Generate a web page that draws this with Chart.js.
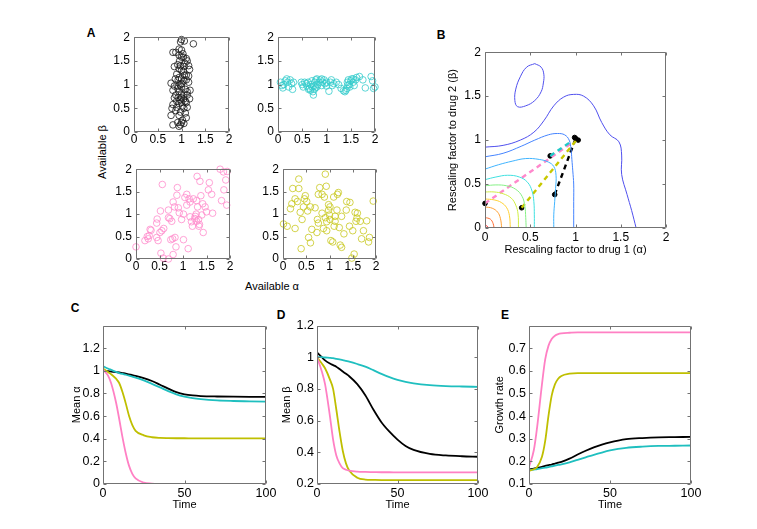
<!DOCTYPE html>
<html>
<head>
<meta charset="utf-8">
<script src="https://cdn.jsdelivr.net/npm/chart.js@4.4.1/dist/chart.umd.min.js"></script>
<style>
body { margin: 0; background: #fff; }
#fig { position: relative; width: 757px; height: 529px; overflow: hidden; font-family: "Liberation Sans", Arial, sans-serif; }
canvas { position: absolute; }
.lbl { position: absolute; font-size: 11px; color: #000; white-space: nowrap; transform: translate(-50%, -50%); }
.letter { position: absolute; font-size: 12px; font-weight: bold; transform: translate(-50%, -50%); }
</style>
</head>
<body>
<div id="fig">
  <div class="letter" style="left:91px;top:33px">A</div>
  <div class="letter" style="left:441px;top:35px">B</div>
  <div class="letter" style="left:75px;top:308px">C</div>
  <div class="letter" style="left:281px;top:315px">D</div>
  <div class="letter" style="left:505px;top:315px">E</div>
  <div class="lbl" style="left:102px;top:152px;transform:translate(-50%,-50%) rotate(-90deg)">Available β</div>
  <div class="lbl" style="left:272px;top:286px">Available α</div>
  <canvas id="a1"></canvas><canvas id="a2"></canvas>
  <canvas id="a3"></canvas><canvas id="a4"></canvas>
  <canvas id="b"></canvas>
  <canvas id="c"></canvas><canvas id="d"></canvas><canvas id="e"></canvas>
</div>
<script>
// ---- data ----
const unitTicks = [0, 0.5, 1, 1.5, 2];
const timeTicks = [0, 50, 100];
const meanAlphaTicks = [0, 0.2, 0.4, 0.6, 0.8, 1, 1.2];
const meanBetaTicks = [0.2, 0.4, 0.6, 0.8, 1, 1.2];
const growthTicks = [0.1, 0.2, 0.3, 0.4, 0.5, 0.6, 0.7];

// A: available (alpha, beta) for the four populations
const ptsBlack = [[1.0,1.95],[0.98,1.9],[1.06,1.92],[1.25,1.86],[0.95,1.75],[1.0,1.73],[0.82,1.68],[0.88,1.68],[0.95,1.62],[1.0,1.58],
  [1.04,1.58],[1.1,1.55],[1.12,1.5],[1.07,1.45],[0.92,1.42],[0.98,1.4],[1.05,1.38],[1.15,1.4],[1.17,1.32],[0.85,1.38],
  [0.95,1.33],[1.0,1.3],[1.04,1.28],[1.1,1.2],[1.15,1.18],[0.9,1.22],[0.95,1.15],[1.0,1.12],[0.93,1.1],[0.87,1.12],
  [1.05,1.08],[1.1,1.1],[1.15,1.05],[1.0,1.02],[0.97,1.0],[0.78,1.03],[0.85,0.97],[0.92,0.92],[1.0,0.95],[1.08,0.9],
  [1.18,0.88],[0.82,0.88],[0.95,0.85],[1.05,0.8],[1.12,0.78],[0.88,0.78],[0.93,0.73],[1.0,0.72],[0.97,0.68],[1.05,0.7],
  [0.85,0.72],[1.17,0.7],[0.9,0.65],[1.0,0.63],[1.08,0.65],[0.82,0.58],[0.95,0.6],[1.02,0.55],[0.9,0.52],[0.8,0.5],
  [1.05,0.5],[1.12,0.52],[0.88,0.45],[0.98,0.42],[1.08,0.4],[0.95,0.35],[0.78,0.35],[1.1,0.3],[1.02,0.25],[0.92,0.2],
  [1.05,0.18],[0.82,0.15],[0.95,0.12],[0.98,0.15],[1.0,0.2],[1.12,0.85],[1.06,1.2],[0.96,1.5],[1.03,1.65],[0.99,0.78],
  [1.1,0.62],[0.93,0.97]];
const ptsCyan = [[0.05,1.05],[0.08,0.98],[0.1,0.93],[0.12,1.0],[0.15,1.08],[0.18,1.12],[0.2,1.05],[0.22,0.95],[0.25,1.1],[0.28,1.02],
  [0.3,0.9],[0.32,1.05],[0.48,1.05],[0.5,1.0],[0.52,0.95],[0.55,1.05],[0.58,1.02],[0.6,0.97],[0.62,1.05],[0.65,0.92],
  [0.67,0.88],[0.68,1.0],[0.7,0.95],[0.72,0.85],[0.73,0.78],[0.75,0.9],[0.76,1.05],[0.78,1.1],[0.8,0.95],[0.8,1.12],
  [0.82,1.0],[0.85,1.05],[0.87,1.1],[0.9,0.98],[0.92,1.05],[0.95,1.1],[0.97,1.02],[1.0,0.97],[1.05,0.86],[1.08,1.05],
  [1.1,1.1],[1.12,0.98],[1.15,1.02],[1.2,1.05],[1.25,1.0],[1.3,0.92],[1.35,0.87],[1.38,0.85],[1.4,0.88],[1.42,0.92],
  [1.43,1.05],[1.45,1.1],[1.47,1.0],[1.48,0.95],[1.5,1.08],[1.52,1.12],[1.55,1.05],[1.57,0.98],[1.6,1.1],[1.62,1.15],
  [1.68,1.17],[1.75,1.1],[1.8,0.93],[1.92,1.17],[1.95,1.08],[1.97,0.92],[2.0,0.95],[0.9,1.12],[1.0,1.05],[0.63,0.9],
  [0.7,1.08],[1.55,1.12],[0.74,0.97],[0.77,0.93],[1.44,0.99]];
const ptsPink = [[0,0.27],[0.19,0.41],[0.26,0.45],[0.32,0.64],[0.28,0.52],[0.44,0.48],[0.47,0.41],[0.44,0.8],[0.45,0.89],[0.51,0.59],
  [0.55,0.63],[0.59,0.68],[0.52,1.07],[0.56,1.66],[0.53,0.13],[0.58,0.02],[0.69,0.0],[0.79,0.1],[0.69,0.92],[0.72,0.9],
  [0.69,1.09],[0.74,0.43],[0.78,0.45],[0.83,0.48],[0.85,0.27],[0.79,1.27],[0.82,1.16],[0.87,1.42],[0.88,1.59],[0.9,1.14],
  [0.92,1.03],[0.97,0.88],[1.01,0.43],[1.01,1.0],[1.04,1.37],[1.08,1.2],[1.11,0.23],[1.13,1.34],[1.15,1.27],[1.15,0.94],
  [1.18,0.83],[1.2,0.73],[1.26,0.95],[1.28,1.0],[1.3,1.84],[1.29,1.3],[1.31,1.16],[1.33,0.88],[1.34,0.73],[1.35,0.77],
  [1.36,1.73],[1.38,1.41],[1.4,0.98],[1.42,1.23],[1.43,0.59],[1.47,1.16],[1.5,1.05],[1.54,1.54],[1.56,1.7],[1.61,1.44],
  [1.63,1.02],[1.79,2.0],[1.82,1.3],[1.86,1.94],[1.87,1.54],[1.91,1.76],[1.93,1.2],[1.94,1.95],[1.22,1.34],[1.29,0.84],
  [1.08,1.44],[0.76,0.84],[0.3,0.66],[0.24,0.5],[1.25,0.9]];
const ptsYellow = [[0.01,0.78],[0.09,0.73],[0.16,1.12],[0.19,1.23],[0.21,1.57],[0.26,1.34],[0.26,0.68],[0.31,1.28],[0.34,1.57],[0.34,1.78],
  [0.37,1.04],[0.39,0.23],[0.41,0.88],[0.44,1.16],[0.46,1.34],[0.48,1.41],[0.51,1.28],[0.53,1.07],[0.55,0.48],[0.59,0.36],
  [0.59,1.16],[0.62,0.66],[0.69,1.14],[0.73,0.59],[0.74,0.88],[0.76,0.8],[0.76,1.44],[0.79,1.59],[0.84,1.02],[0.87,0.68],
  [0.89,1.38],[0.91,1.89],[0.93,1.62],[0.94,0.63],[0.94,0.83],[0.98,1.09],[0.98,1.21],[1.0,0.98],[1.01,0.88],[1.03,0.41],
  [1.07,0.38],[1.09,1.38],[1.1,0.73],[1.12,0.95],[1.16,1.09],[1.17,1.44],[1.19,1.48],[1.21,0.7],[1.23,0.31],[1.26,0.26],
  [1.26,0.95],[1.31,0.56],[1.36,1.09],[1.37,1.28],[1.43,0.73],[1.44,1.26],[1.48,0.02],[1.5,0.63],[1.53,0.11],[1.55,1.04],
  [1.57,0.84],[1.59,0.91],[1.6,1.02],[1.66,0.84],[1.69,0.45],[1.73,0.63],[1.8,0.85],[1.84,0.38],[1.86,0.48],[1.94,1.29],
  [1.01,1.16],[0.84,1.44],[0.91,0.92],[1.12,0.84]];

// B: contour levels of growth rate, outermost first
const contourLoop = [[0.55,1.87],[0.62,1.83],[0.65,1.75],[0.645,1.65],[0.62,1.55],[0.55,1.45],[0.45,1.39],[0.36,1.38],[0.33,1.45],[0.34,1.58],[0.39,1.72],[0.46,1.83],[0.55,1.87]];
const contourLevels = [
  [[0,0.92],[0.2,0.94],[0.39,1.0],[0.54,1.09],[0.65,1.22],[0.76,1.39],[0.87,1.49],[0.98,1.52],[1.09,1.5],[1.2,1.39],[1.29,1.2],[1.38,1.06],[1.48,0.98],[1.51,0.83],[1.51,0.61],[1.57,0.38],[1.62,0.2],[1.67,0]],
  [[0,0.81],[0.2,0.85],[0.4,0.93],[0.55,1.0],[0.7,1.06],[0.8,1.075],[0.88,1.06],[0.93,1.0],[0.95,0.9],[0.96,0.78],[0.97,0.65],[0.98,0.5],[0.98,0.3],[0.98,0]],
  [[0,0.67],[0.15,0.72],[0.3,0.76],[0.45,0.79],[0.6,0.78],[0.7,0.75],[0.76,0.7],[0.785,0.6],[0.78,0.45],[0.77,0.3],[0.76,0.15],[0.76,0]],
  [[0,0.55],[0.12,0.58],[0.25,0.6],[0.38,0.58],[0.47,0.52],[0.52,0.42],[0.54,0.3],[0.545,0.15],[0.545,0]],
  [[0,0.48],[0.12,0.49],[0.24,0.48],[0.34,0.44],[0.41,0.36],[0.44,0.25],[0.45,0.12],[0.455,0]],
  [[0,0.41],[0.1,0.41],[0.2,0.39],[0.29,0.34],[0.34,0.26],[0.365,0.16],[0.37,0]],
  [[0,0.33],[0.1,0.32],[0.18,0.29],[0.24,0.23],[0.27,0.14],[0.28,0]],
  [[0,0.24],[0.08,0.225],[0.14,0.18],[0.17,0.11],[0.185,0]],
  [[0,0.12],[0.06,0.1],[0.09,0.05],[0.1,0]],
  [[0,0.035],[0.025,0.02],[0.04,0]]
];
const contourColors = ['#5050ee','#4584ff','#40b4ff','#40e0e0','#86f086','#d0ee44','#ffd034','#ffa034','#ff6a30','#ff3030'];
const dashCyan = [[0.72,0.82],[0.96,0.99]];
const dashPink = [[0,0.28],[0.97,0.975]];
const dashYellow = [[0.405,0.23],[1.01,1.0]];
const dashBlack = [[0.77,0.38],[1.01,1.04]];
const dotsB = [[0.72,0.82],[0,0.28],[0.405,0.23],[0.77,0.38],[0.99,1.03],[1.03,1.0],[1.0,1.02]];

// C, D, E: time courses
const time = [0,3,5,8,10,12,14,16,18,20,25,30,35,40,45,50,55,60,70,80,90,100];
const alphaBlack  = [1.0,0.997,0.993,0.988,0.985,0.98,0.975,0.968,0.962,0.955,0.935,0.91,0.877,0.843,0.812,0.792,0.782,0.777,0.773,0.771,0.77,0.77];
const alphaCyan   = [1.04,1.02,1.008,0.99,0.98,0.972,0.965,0.957,0.948,0.94,0.915,0.885,0.853,0.82,0.792,0.772,0.758,0.749,0.738,0.733,0.73,0.727];
const alphaYellow = [1.02,0.99,0.97,0.93,0.89,0.81,0.71,0.6,0.52,0.47,0.43,0.413,0.407,0.405,0.404,0.404,0.403,0.403,0.403,0.403,0.403,0.403];
const alphaPink   = [1.01,0.96,0.89,0.72,0.57,0.41,0.27,0.16,0.09,0.05,0.012,0.004,0.001,0,0,0,0,0,0,0,0,0];
const betaBlack   = [1.03,1.0,0.98,0.96,0.95,0.94,0.925,0.91,0.895,0.88,0.83,0.76,0.67,0.59,0.53,0.48,0.44,0.415,0.39,0.38,0.375,0.372];
const betaCyan    = [1.0,1.0,0.998,0.996,0.994,0.99,0.986,0.982,0.977,0.972,0.957,0.94,0.918,0.895,0.874,0.857,0.844,0.835,0.824,0.818,0.815,0.813];
const betaYellow  = [1.0,0.96,0.93,0.86,0.8,0.67,0.53,0.41,0.33,0.285,0.24,0.228,0.226,0.225,0.225,0.225,0.225,0.225,0.225,0.225,0.225,0.225];
const betaPink    = [1.0,0.91,0.83,0.63,0.48,0.38,0.33,0.3,0.29,0.284,0.278,0.276,0.275,0.274,0.274,0.273,0.273,0.273,0.273,0.273,0.273,0.273];
const growthBlack  = [0.164,0.168,0.171,0.176,0.18,0.183,0.186,0.19,0.194,0.198,0.212,0.23,0.247,0.262,0.274,0.284,0.292,0.298,0.303,0.306,0.307,0.308];
const growthCyan   = [0.161,0.164,0.166,0.17,0.172,0.175,0.178,0.181,0.184,0.187,0.196,0.207,0.218,0.229,0.239,0.248,0.255,0.26,0.265,0.268,0.269,0.27];
const growthYellow = [0.158,0.165,0.175,0.22,0.29,0.4,0.49,0.54,0.565,0.577,0.587,0.59,0.59,0.59,0.59,0.59,0.59,0.59,0.59,0.59,0.59,0.59];
const growthPink   = [0.175,0.25,0.35,0.54,0.65,0.71,0.74,0.755,0.762,0.765,0.768,0.77,0.77,0.77,0.77,0.77,0.77,0.77,0.77,0.77,0.77,0.77];

// ---- drawing ----
const FONT = '"Liberation Sans", Arial, sans-serif';
const BLACK = '#000000', CYAN = '#1fbfbf', YELLOW = '#bfbf00', PINK = '#ff80c4';
const PAD_T = 8, PAD_R = 14;

// MATLAB style box with inward ticks on all four sides
const matlabBox = {
  id: 'matlabBox',
  afterDraw(chart) {
    const { ctx, chartArea: a, scales: { x, y } } = chart;
    const L = Math.round(a.left) + 0.5, R = Math.round(a.right) - 0.5;
    const T = Math.round(a.top) + 0.5, B = Math.round(a.bottom) - 0.5;
    ctx.save();
    ctx.strokeStyle = '#737373';
    ctx.lineWidth = 1;
    ctx.beginPath();
    ctx.rect(L, T, R - L, B - T);
    x.ticks.forEach(t => {
      const p = Math.round(x.getPixelForValue(t.value)) + 0.5;
      ctx.moveTo(p, B); ctx.lineTo(p, B - 3);
      ctx.moveTo(p, T); ctx.lineTo(p, T + 3);
    });
    y.ticks.forEach(t => {
      const p = Math.round(y.getPixelForValue(t.value)) + 0.5;
      ctx.moveTo(L, p); ctx.lineTo(L + 3, p);
      ctx.moveTo(R, p); ctx.lineTo(R - 3, p);
    });
    ctx.stroke();
    ctx.restore();
  }
};

function fmt(v) { return String(+Number(v).toFixed(2)); }

function axis(min, max, ticks, title, pad, size, fit) {
  return {
    type: 'linear', min: min, max: max,
    afterBuildTicks: s => { s.ticks = ticks.map(v => ({ value: v })); },
    afterFit: fit,
    grid: { display: false, drawTicks: false },
    border: { display: false },
    ticks: { padding: pad, color: '#000', autoSkip: false, maxRotation: 0,
             font: { family: FONT, size: size }, callback: v => fmt(v) },
    title: title ? { display: true, text: title, color: '#000', padding: 0,
                     font: { family: FONT, size: 11 } } : { display: false }
  };
}

function panel(id, r, o) {
  const cv = document.getElementById(id);
  const W = o.yW + r.w + PAD_R, H = PAD_T + r.h + o.xH;
  cv.width = W; cv.height = H;
  cv.style.width = W + 'px'; cv.style.height = H + 'px';
  cv.style.left = (r.x - o.yW) + 'px';
  cv.style.top = (r.y - PAD_T) + 'px';
  return new Chart(cv, {
    type: 'scatter',
    data: { datasets: o.datasets },
    options: {
      responsive: false, animation: false, events: [],
      layout: { padding: { left: 0, top: PAD_T, right: PAD_R, bottom: 0 } },
      plugins: { legend: { display: false }, tooltip: { enabled: false } },
      scales: {
        x: axis(o.xr[0], o.xr[1], o.xTicks, o.xTitle, o.xPad, o.fs, s => { s.height = o.xH; }),
        y: axis(o.yr[0], o.yr[1], o.yTicks, o.yTitle, o.yPad, o.fs, s => { s.width = o.yW; })
      }
    },
    plugins: [matlabBox]
  });
}

const xy = pts => pts.map(p => ({ x: p[0], y: p[1] }));
const circles = (pts, c) => ({ data: xy(pts), borderColor: c, backgroundColor: 'transparent',
  pointRadius: 3.3, pointBorderWidth: 0.8, clip: 5 });
const curve = (ys, c) => ({ data: time.map((t, i) => ({ x: t, y: ys[i] })), borderColor: c,
  showLine: true, pointRadius: 0, borderWidth: 1.8, cubicInterpolationMode: 'monotone' });
const contour = (pts, c) => ({ data: xy(pts), borderColor: c, showLine: true, pointRadius: 0,
  borderWidth: 1, tension: 0.4 });
const dashed = (pts, c) => ({ data: xy(pts), borderColor: c, showLine: true, pointRadius: 0,
  borderWidth: 2.4, borderDash: [5, 4] });

const scatterOpts = { yW: 30, xH: 16, xPad: 0, yPad: 4, fs: 12, xr: [0, 2], yr: [0, 2], xTicks: unitTicks, yTicks: unitTicks };
panel('a1', { x: 134, y: 34, w: 95, h: 98 }, Object.assign({ datasets: [circles(ptsBlack, '#1a1a1a')] }, scatterOpts));
panel('a2', { x: 278, y: 34, w: 97, h: 98 }, Object.assign({ datasets: [circles(ptsCyan, '#33cccc')] }, scatterOpts));
panel('a3', { x: 136, y: 166, w: 94, h: 93 }, Object.assign({ datasets: [circles(ptsPink, '#ff8ccc')] }, scatterOpts));
panel('a4', { x: 283, y: 166, w: 93, h: 93 }, Object.assign({ datasets: [circles(ptsYellow, '#c8c81e')] }, scatterOpts));

const bSets = [contour(contourLoop, contourColors[0])]
  .concat(contourLevels.map((lv, i) => contour(lv, contourColors[i])))
  .concat([dashed(dashCyan, '#22c8c8'), dashed(dashPink, '#ff88cc'), dashed(dashYellow, '#c8c800'), dashed(dashBlack, '#000'),
           { data: xy(dotsB), backgroundColor: '#000', borderColor: '#000', pointRadius: 2.3, clip: 5 }]);
panel('b', { x: 485, y: 49, w: 181, h: 179 }, {
  yW: 39, xH: 29, xPad: 2, yPad: 4, fs: 12, xr: [0, 2], yr: [0, 2], xTicks: unitTicks, yTicks: unitTicks,
  xTitle: 'Rescaling factor to drug 1 (α)', yTitle: 'Rescaling factor to drug 2 (β)', datasets: bSets });

const lineOpts = { xH: 28, xPad: 2, yPad: 3, fs: 12.5, xr: [0, 100], xTicks: timeTicks, xTitle: 'Time' };
panel('c', { x: 103, y: 323, w: 163, h: 161 }, Object.assign({}, lineOpts, {
  yW: 33, yr: [0, 1.4], yTicks: meanAlphaTicks, yTitle: 'Mean α',
  datasets: [curve(alphaPink, PINK), curve(alphaYellow, YELLOW), curve(alphaCyan, CYAN), curve(alphaBlack, BLACK)] }));
panel('d', { x: 317, y: 323, w: 161, h: 161 }, Object.assign({}, lineOpts, {
  yW: 37, yr: [0.2, 1.2], yTicks: meanBetaTicks, yTitle: 'Mean β',
  datasets: [curve(betaPink, PINK), curve(betaYellow, YELLOW), curve(betaCyan, CYAN), curve(betaBlack, BLACK)] }));
panel('e', { x: 529, y: 323, w: 162, h: 161 }, Object.assign({}, lineOpts, {
  yW: 36, yr: [0.1, 0.8], yTicks: growthTicks, yTitle: 'Growth rate',
  datasets: [curve(growthPink, PINK), curve(growthYellow, YELLOW), curve(growthCyan, CYAN), curve(growthBlack, BLACK)] }));
</script>
</body>
</html>
